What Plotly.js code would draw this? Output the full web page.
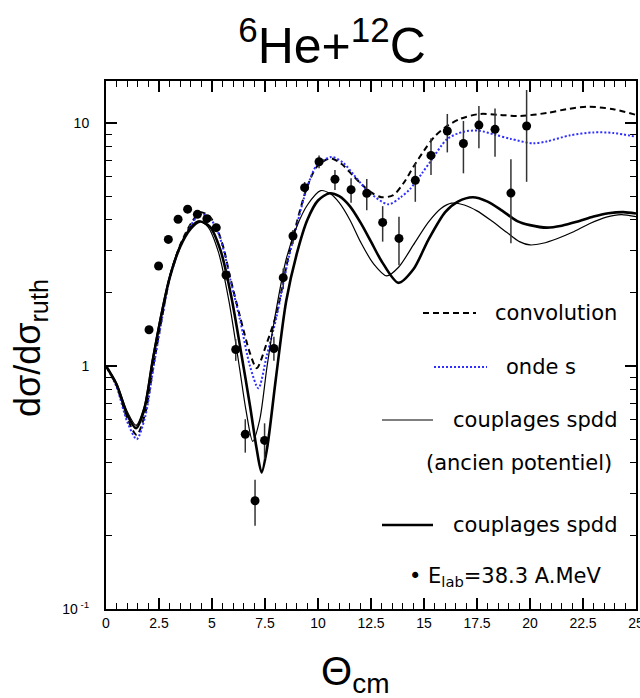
<!DOCTYPE html>
<html>
<head>
<meta charset="utf-8">
<script src="https://cdn.plot.ly/plotly-3.0.1.min.js"></script>
<style>html,body{margin:0;padding:0;background:#fff;}#chart{width:640px;height:698px;}</style>
</head>
<body>
<div id="chart"></div>
<script>
// ---- Experimental data (E_lab = 38.3 A.MeV) ----
const dataTheta = [2.03, 2.48, 2.94, 3.40, 3.85, 4.31, 4.76, 5.20, 5.66, 6.12, 6.57, 7.03, 7.48, 7.92, 8.36, 8.82, 9.37, 10.05, 10.80, 11.56, 12.30, 13.05, 13.82, 14.59, 15.33, 16.10, 16.86, 17.59, 18.35, 19.10, 19.84];
const dataSigma = [1.41, 2.58, 3.32, 4.02, 4.42, 4.21, 4.04, 3.71, 2.37, 1.17, 0.524, 0.279, 0.494, 1.18, 2.31, 3.43, 5.42, 6.93, 5.87, 5.32, 5.14, 3.90, 3.35, 5.81, 7.36, 9.27, 8.24, 9.81, 9.42, 5.15, 9.72];
const errPlus  = [0.05, 0.08, 0.10, 0.12, 0.12, 0.12, 0.12, 0.12, 0.12, 0.12, 0.080, 0.061, 0.087, 0.14, 0.21, 0.20, 0.30, 0.43, 0.54, 0.60, 0.74, 0.65, 0.76, 1.02, 1.29, 1.63, 1.96, 1.94, 2.06, 1.94, 3.96];
const errMinus = [0.05, 0.08, 0.10, 0.12, 0.12, 0.12, 0.12, 0.12, 0.12, 0.12, 0.084, 0.059, 0.080, 0.13, 0.24, 0.25, 0.30, 0.42, 0.57, 0.62, 0.76, 0.65, 0.75, 1.07, 1.25, 1.70, 2.03, 1.94, 2.15, 1.95, 3.99];

// ---- convolution (dashed) ----
const convTheta = [0, 0.5, 1.0, 1.45, 1.85, 2.25, 2.65, 3.0, 3.5, 4.0, 4.45, 4.85, 5.2, 5.55, 5.85, 6.32, 6.79, 7.11, 7.58, 8.05, 8.52, 9.0, 9.47, 9.94, 10.57, 11.1, 11.67, 12.45, 13.0, 13.55, 14.03, 14.5, 15.0, 15.5, 16.0, 16.7, 17.64, 18.58, 19.53, 20.79, 21.73, 22.75, 23.93, 25];
const convSigma = [1.0, 0.83, 0.61, 0.52, 0.64, 1.02, 1.6, 2.3, 3.15, 3.85, 4.29, 4.15, 3.74, 3.05, 2.33, 1.6, 1.13, 0.98, 1.24, 1.65, 2.6, 3.9, 5.4, 6.6, 7.16, 6.8, 6.05, 5.22, 4.95, 5.05, 5.65, 6.6, 7.7, 8.8, 9.6, 10.4, 10.9, 10.8, 10.69, 11.0, 11.4, 11.67, 11.4, 10.8];

// ---- onde s (dotted blue) ----
const ondeTheta = [0, 0.5, 1.0, 1.45, 1.85, 2.25, 2.65, 3.0, 3.5, 4.0, 4.45, 4.85, 5.2, 5.55, 5.85, 6.32, 6.79, 7.19, 7.58, 8.05, 8.52, 9.0, 9.47, 9.94, 10.65, 11.2, 11.67, 12.4, 13.32, 13.9, 14.34, 14.9, 15.33, 16.1, 16.86, 17.59, 18.35, 19.1, 20.16, 20.79, 21.89, 22.99, 23.93, 25];
const ondeSigma = [1.0, 0.82, 0.59, 0.50, 0.62, 1.0, 1.58, 2.28, 3.1, 3.8, 4.22, 4.1, 3.7, 3.0, 2.3, 1.55, 1.0, 0.81, 1.1, 1.6, 2.55, 3.8, 5.35, 6.7, 7.25, 6.85, 6.15, 5.2, 4.63, 4.95, 5.35, 6.2, 7.0, 8.6, 9.21, 9.3, 8.95, 8.6, 8.25, 8.4, 8.9, 9.15, 9.1, 8.78];

// ---- couplages spdd, ancien potentiel (thin solid) ----
const ancTheta = [0, 0.5, 1.0, 1.42, 1.8, 2.2, 2.6, 3.0, 3.5, 4.0, 4.36, 4.8, 5.3, 5.8, 6.3, 6.6, 6.92, 7.25, 7.6, 8.0, 8.5, 9.0, 9.5, 10.13, 10.6, 11.0, 11.5, 12.0, 12.6, 13.24, 13.8, 14.5, 15.2, 15.8, 16.3, 16.9, 17.5, 18.2, 18.9, 19.5, 20.0, 20.6, 21.3, 22.0, 22.8, 23.6, 24.3, 25];
const ancSigma = [1.0, 0.85, 0.65, 0.57, 0.68, 1.08, 1.65, 2.35, 3.15, 3.75, 3.96, 3.75, 2.95, 1.85, 0.98, 0.66, 0.49, 0.6, 1.0, 1.65, 2.75, 3.75, 4.6, 5.27, 5.1, 4.7, 4.0, 3.25, 2.65, 2.35, 2.55, 3.15, 3.9, 4.45, 4.68, 4.6, 4.35, 3.95, 3.55, 3.25, 3.15, 3.2, 3.35, 3.55, 3.85, 4.1, 4.2, 4.12];

// ---- couplages spdd (thick solid) ----
const spddTheta = [0, 0.5, 1.0, 1.42, 1.8, 2.2, 2.6, 3.0, 3.5, 4.0, 4.42, 4.9, 5.4, 5.9, 6.4, 6.8, 7.1, 7.34, 7.6, 8.0, 8.5, 9.0, 9.5, 10.0, 10.54, 11.0, 11.5, 12.0, 12.5, 13.0, 13.79, 14.5, 15.2, 16.0, 16.6, 17.3, 18.0, 18.7, 19.4, 20.0, 20.8, 21.5, 22.2, 23.0, 23.7, 24.4, 25];
const spddSigma = [1.0, 0.84, 0.63, 0.555, 0.66, 1.05, 1.6, 2.3, 3.1, 3.68, 3.93, 3.75, 3.0, 1.95, 1.1, 0.68, 0.46, 0.365, 0.46, 0.87, 1.85, 2.9, 4.0, 4.8, 5.14, 5.0, 4.55, 3.9, 3.25, 2.7, 2.2, 2.5, 3.3, 4.3, 4.75, 4.95, 4.75, 4.35, 3.95, 3.8, 3.71, 3.78, 3.92, 4.12, 4.25, 4.3, 4.24];

// ---- labels ----
const titleText = '<sup>6</sup>He+<sup>12</sup>C';
const xTitle = 'Θ<sub>cm</sub>';
const yTitle = 'dσ/dσ<sub>ruth</sub>';
const xTickVals = [0, 2.5, 5, 7.5, 10, 12.5, 15, 17.5, 20, 22.5, 25];
const xTickText = ['0', '2.5', '5', '7.5', '10', '12.5', '15', '17.5', '20', '22.5', '25'];
const yTickVals = [0.1, 1, 10];
const yTickText = ['10<sup> -1</sup>', '1', '10'];
const legendLabels = ['convolution', 'onde s', 'couplages spdd', '(ancien potentiel)', 'couplages spdd', '• E<sub>lab</sub>=38.3 A.MeV'];

const traces = [
  {x: convTheta, y: convSigma, mode: 'lines', line: {color: '#000', width: 2, dash: '6px,4px', shape: 'spline', smoothing: 0.8}, hoverinfo: 'skip'},
  {x: ondeTheta, y: ondeSigma, mode: 'lines', line: {color: '#2f2fff', width: 2, dash: '2px,2px', shape: 'spline', smoothing: 0.8}, hoverinfo: 'skip'},
  {x: ancTheta, y: ancSigma, mode: 'lines', line: {color: '#000', width: 1.2, shape: 'spline', smoothing: 0.8}, hoverinfo: 'skip'},
  {x: spddTheta, y: spddSigma, mode: 'lines', line: {color: '#000', width: 2.6, shape: 'spline', smoothing: 0.8}, hoverinfo: 'skip'},
  {x: dataTheta, y: dataSigma, mode: 'markers', marker: {color: '#000', size: 9},
   error_y: {type: 'data', symmetric: false, array: errPlus, arrayminus: errMinus, color: '#333', thickness: 1.5, width: 0}}
];

const minorY = [];
for (let e = -1; e <= 1; e++) for (let k = 2; k <= 9; k++) minorY.push(k * Math.pow(10, e));

const F = 'Liberation Sans, Arial, sans-serif';
const LF = 'DejaVu Sans, sans-serif';

function px2x(p){ return (p - 106) / 530; }
function px2y(p){ return (609 - p) / 528; }

const legendLines = [
  {x0: 423, x1: 476, y: 313, dash: '6px,4px', color: '#000', width: 2},
  {x0: 434, x1: 487, y: 367, dash: '2px,2px', color: '#2f2fff', width: 2},
  {x0: 382, x1: 433, y: 420, dash: 'solid', color: '#000', width: 1.2},
  {x0: 382, x1: 433, y: 525, dash: 'solid', color: '#000', width: 2.6}
];
const legendTextPos = [[493, 313], [504, 367], [451, 420], [424, 463], [451, 525], [407, 577]];

const shapes = legendLines.map(s => ({type: 'line', xref: 'paper', yref: 'paper',
  x0: px2x(s.x0), x1: px2x(s.x1), y0: px2y(s.y), y1: px2y(s.y),
  line: {color: s.color, width: s.width, dash: s.dash}}));

const annotations = legendLabels.map((t, i) => ({
  text: t, xref: 'paper', yref: 'paper', x: px2x(legendTextPos[i][0]), y: px2y(legendTextPos[i][1]),
  xanchor: 'left', yanchor: 'middle', showarrow: false, font: {family: LF, size: 21, color: '#000'}
}));
annotations.push({text: xTitle, xref: 'paper', yref: 'paper', x: px2x(355), y: px2y(674), xanchor: 'center', yanchor: 'middle', showarrow: false, font: {family: F, size: 40, color: '#000'}});
annotations.push({text: yTitle, xref: 'paper', yref: 'paper', x: px2x(30), y: px2y(348), xanchor: 'center', yanchor: 'middle', textangle: -90, showarrow: false, font: {family: F, size: 36, color: '#000'}});

const layout = {
  width: 640, height: 698,
  margin: {l: 106, r: 4, t: 81, b: 89},
  paper_bgcolor: '#fff', plot_bgcolor: '#fff',
  showlegend: false,
  title: {text: titleText, x: 332/640, xanchor: 'center', xref: 'container', y: 1 - 45/698, yanchor: 'middle', yref: 'container', font: {family: F, size: 50, color: '#000'}},
  xaxis: {range: [0, 25], tickmode: 'array', tickvals: xTickVals, ticktext: xTickText, showgrid: false, zeroline: false, showline: true, linewidth: 2, linecolor: '#000', mirror: 'ticks',
    ticks: 'inside', ticklen: 11, tickwidth: 1.2, tickcolor: '#000', tickfont: {family: F, size: 14, color: '#000'}, ticklabeloverflow: 'allow',
    minor: {dtick: 0.5, tick0: 0, ticks: 'inside', ticklen: 6, tickwidth: 1, tickcolor: '#000', showgrid: false}},
  yaxis: {type: 'log', range: [-1, 1.173], tickmode: 'array', tickvals: yTickVals, ticktext: yTickText, showgrid: false, zeroline: false,
    showline: true, linewidth: 2, linecolor: '#000', mirror: 'ticks', ticks: 'inside', ticklen: 11, tickwidth: 1.2, tickcolor: '#000',
    tickfont: {family: F, size: 14, color: '#000'}, ticklabelstandoff: 12,
    minor: {tickmode: 'array', tickvals: minorY, ticks: 'inside', ticklen: 6, tickwidth: 1, tickcolor: '#000', showgrid: false}},
  shapes: shapes,
  annotations: annotations
};

Plotly.newPlot('chart', traces, layout, {displayModeBar: false, staticPlot: true});
</script>
</body>
</html>
